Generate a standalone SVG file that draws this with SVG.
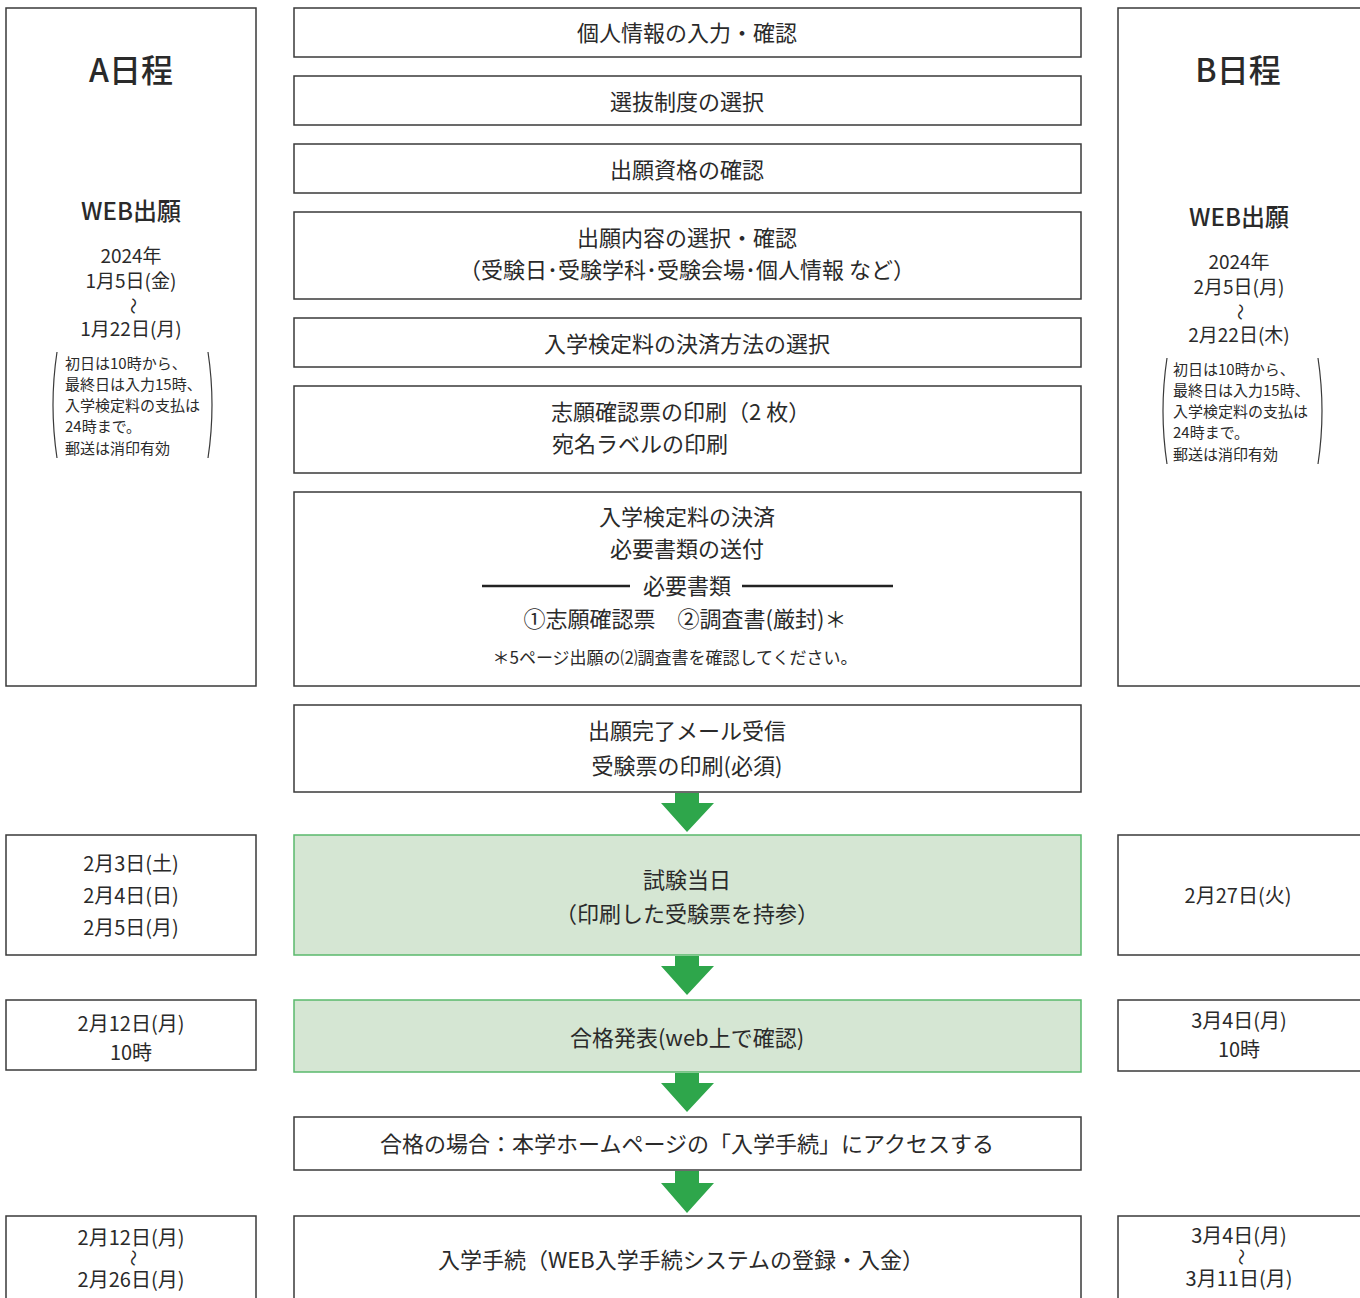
<svg xmlns="http://www.w3.org/2000/svg" width="1360" height="1298" viewBox="0 0 1360 1298">
<style>
text{font-family:"Noto Sans CJK JP","Noto Sans",sans-serif;fill:#2a2a2a;}
.box{fill:#fff;stroke:#3a3a3a;stroke-width:1.5;}
.gbox{fill:#d5e6d3;stroke:#5ab96c;stroke-width:1.5;}
.m{font-size:22px;text-anchor:middle;}
.s{font-size:20px;text-anchor:middle;}
.d{font-size:19px;text-anchor:middle;}
.n{font-size:15px;}
.h1{font-size:32px;font-weight:500;text-anchor:middle;}
.h2{font-size:24px;font-weight:500;text-anchor:middle;}
.fn{font-size:17px;text-anchor:middle;}
.br{fill:none;stroke:#3a3a3a;stroke-width:1.2;}
.arr{fill:#2ea64b;}
.sep{stroke:#222;stroke-width:2.5;}
.wave{font-size:17px;text-anchor:middle;}
</style>
<rect width="1360" height="1298" fill="#fff"/>

<g id="colA">
<rect class="box" x="6" y="8" width="250" height="678"/>
<text class="h1" x="131" y="82">A日程</text>
<text class="h2" x="131" y="220">WEB出願</text>
<text class="d" x="131" y="263">2024年</text>
<text class="d" x="131" y="288">1月5日(金)</text>
<text class="wave" transform="translate(133,306) rotate(90)" y="6">～</text>
<text class="d" x="131" y="336">1月22日(月)</text>
<path class="br" d="M57,352 Q49,405 57,458"/>
<path class="br" d="M208,352 Q216,405 208,458"/>
<text class="n" x="65" y="369">初日は10時から、</text>
<text class="n" x="65" y="390">最終日は入力15時、</text>
<text class="n" x="65" y="411">入学検定料の支払は</text>
<text class="n" x="65" y="432">24時まで。</text>
<text class="n" x="65" y="454">郵送は消印有効</text>
</g>

<g id="colB">
<rect class="box" x="1118" y="8" width="260" height="678"/>
<text class="h1" x="1238" y="82">B日程</text>
<text class="h2" x="1239" y="226">WEB出願</text>
<text class="d" x="1239" y="269">2024年</text>
<text class="d" x="1239" y="294">2月5日(月)</text>
<text class="wave" transform="translate(1240,312) rotate(90)" y="6">～</text>
<text class="d" x="1239" y="342">2月22日(木)</text>
<path class="br" d="M1167,358 Q1159,411 1167,464"/>
<path class="br" d="M1318,358 Q1326,411 1318,464"/>
<text class="n" x="1173" y="375">初日は10時から、</text>
<text class="n" x="1173" y="396">最終日は入力15時、</text>
<text class="n" x="1173" y="417">入学検定料の支払は</text>
<text class="n" x="1173" y="438">24時まで。</text>
<text class="n" x="1173" y="460">郵送は消印有効</text>
</g>

<g id="step1"><rect class="box" x="294" y="8" width="787" height="49"/><text class="m" x="687" y="41">個人情報の入力・確認</text></g>
<g id="step2"><rect class="box" x="294" y="76" width="787" height="49"/><text class="m" x="687" y="110">選抜制度の選択</text></g>
<g id="step3"><rect class="box" x="294" y="144" width="787" height="49"/><text class="m" x="687" y="178">出願資格の確認</text></g>
<g id="step4"><rect class="box" x="294" y="212" width="787" height="87"/><text class="m" x="687" y="246">出願内容の選択・確認</text><text class="m" x="687" y="278">（受験日･受験学科･受験会場･個人情報 など）</text></g>
<g id="step5"><rect class="box" x="294" y="318" width="787" height="49"/><text class="m" x="687" y="352">入学検定料の決済方法の選択</text></g>
<g id="step6"><rect class="box" x="294" y="386" width="787" height="87"/><text class="m" x="551" y="420" style="text-anchor:start">志願確認票の印刷（2 枚）</text><text class="m" x="552" y="452" style="text-anchor:start">宛名ラベルの印刷</text></g>
<g id="step7"><rect class="box" x="294" y="492" width="787" height="194"/>
<text class="m" x="687" y="525">入学検定料の決済</text>
<text class="m" x="687" y="557">必要書類の送付</text>
<line class="sep" x1="482" y1="586" x2="630" y2="586"/>
<line class="sep" x1="742" y1="586" x2="893" y2="586"/>
<text class="m" x="687" y="594">必要書類</text>
<text class="m" x="685" y="627">①志願確認票　②調査書(厳封)＊</text>
<text class="fn" x="675" y="664">＊5ページ出願の⑵調査書を確認してください。</text>
</g>
<g id="step8"><rect class="box" x="294" y="705" width="787" height="87"/><text class="m" x="687" y="739">出願完了メール受信</text><text class="m" x="687" y="774">受験票の印刷(必須)</text></g>
<g id="step9"><rect class="gbox" x="294" y="835" width="787" height="120"/><text class="m" x="687" y="888">試験当日</text><text class="m" x="687" y="922">（印刷した受験票を持参）</text></g>
<g id="step10"><rect class="gbox" x="294" y="1000" width="787" height="72"/><text class="m" x="687" y="1046">合格発表(web上で確認)</text></g>
<g id="step11"><rect class="box" x="294" y="1117" width="787" height="53"/><text class="m" x="687" y="1152">合格の場合：本学ホームページの「入学手続」にアクセスする</text></g>
<g id="step12"><rect class="box" x="294" y="1216" width="787" height="100"/><text class="m" x="681" y="1268">入学手続（WEB入学手続システムの登録・入金）</text></g>

<g id="dateA1"><rect class="box" x="6" y="835" width="250" height="120"/><text class="s" x="131" y="871">2月3日(土)</text><text class="s" x="131" y="903">2月4日(日)</text><text class="s" x="131" y="935">2月5日(月)</text></g>
<g id="dateA2"><rect class="box" x="6" y="1000" width="250" height="70"/><text class="s" x="131" y="1031">2月12日(月)</text><text class="s" x="131" y="1060">10時</text></g>
<g id="dateA3"><rect class="box" x="6" y="1216" width="250" height="100"/><text class="s" x="131" y="1245">2月12日(月)</text><text class="wave" transform="translate(133,1258) rotate(90)" y="6">～</text><text class="s" x="131" y="1287">2月26日(月)</text></g>
<g id="dateB1"><rect class="box" x="1118" y="835" width="260" height="120"/><text class="s" x="1238" y="903">2月27日(火)</text></g>
<g id="dateB2"><rect class="box" x="1118" y="1000" width="260" height="71"/><text class="s" x="1239" y="1028">3月4日(月)</text><text class="s" x="1239" y="1057">10時</text></g>
<g id="dateB3"><rect class="box" x="1118" y="1216" width="260" height="100"/><text class="s" x="1239" y="1243">3月4日(月)</text><text class="wave" transform="translate(1241,1257) rotate(90)" y="6">～</text><text class="s" x="1239" y="1286">3月11日(月)</text></g>

<g id="connectors">
<path class="arr" d="M675,793 H699 V803 H714 L687,832 L661,803 H675 Z"/>
<path class="arr" d="M675,956 H699 V966 H714 L687,995 L661,966 H675 Z"/>
<path class="arr" d="M675,1073 H699 V1083 H714 L687,1112 L661,1083 H675 Z"/>
<path class="arr" d="M675,1171 H699 V1183 H714 L687,1213 L661,1183 H675 Z"/>
</g>
</svg>
